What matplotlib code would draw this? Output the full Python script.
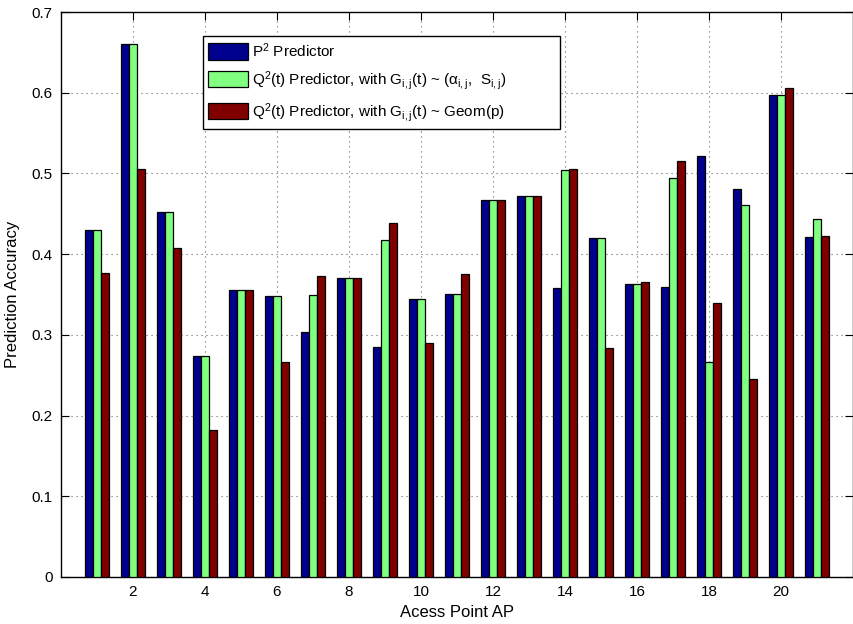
import numpy as np
import matplotlib
matplotlib.use("Agg")
import matplotlib.pyplot as plt

plt.rcParams["font.family"] = ["Liberation Sans", "DejaVu Sans"]
plt.rcParams["mathtext.fontset"] = "custom"
plt.rcParams["mathtext.rm"] = "Liberation Sans"
plt.rcParams["mathtext.it"] = "Liberation Sans"

# prediction accuracy per access point
aps = np.arange(1, 22)
p2_pred = [0.430, 0.660, 0.452, 0.274, 0.356, 0.348, 0.303, 0.370, 0.285, 0.345, 0.351,
           0.467, 0.472, 0.358, 0.420, 0.363, 0.359, 0.522, 0.481, 0.597, 0.421]
q2_alpha = [0.430, 0.660, 0.452, 0.274, 0.356, 0.348, 0.349, 0.370, 0.418, 0.345, 0.351,
            0.467, 0.472, 0.504, 0.420, 0.363, 0.494, 0.266, 0.461, 0.597, 0.443]
q2_geom = [0.377, 0.505, 0.408, 0.182, 0.356, 0.266, 0.373, 0.370, 0.438, 0.290, 0.376,
           0.467, 0.472, 0.506, 0.284, 0.366, 0.515, 0.340, 0.245, 0.606, 0.423]

labels = [
    r"P$^{2}$ Predictor",
    r"Q$^{2}$(t) Predictor, with G$_{i,j}$(t) ~ (α$_{i,j}$,  S$_{i,j}$)",
    r"Q$^{2}$(t) Predictor, with G$_{i,j}$(t) ~ Geom(p)",
]
colors = ["#00008F", "#80FF80", "#800000"]

fig = plt.figure(figsize=(8.54, 6.24), dpi=100)
ax = fig.add_axes([61 / 854, 47 / 624, 792 / 854, 565 / 624])

w = 0.2
step = 0.222
for k, (vals, c, lab) in enumerate(zip([p2_pred, q2_alpha, q2_geom], colors, labels)):
    ax.bar(aps + (k - 1) * step, vals, width=w, color=c, edgecolor="black",
           linewidth=0.9, label=lab, zorder=3)

ax.set_xlim(0, 22)
ax.set_ylim(0, 0.7)
ax.set_xticks(np.arange(2, 21, 2))
ax.set_yticks(np.arange(0, 0.71, 0.1))
ax.set_yticklabels(["0"] + ["%.1f" % v for v in np.arange(0.1, 0.71, 0.1)])
ax.tick_params(direction="in", length=6, width=0.8, labelsize=11,
               top=True, right=True, pad=6)
ax.grid(True, linestyle=(0, (1, 3.5)), color="#666666", linewidth=0.8, zorder=0)
for s in ax.spines.values():
    s.set_linewidth(1.0)

ax.set_xlabel("Acess Point AP", fontsize=12, labelpad=4)
ax.set_ylabel("Prediction Accuracy", fontsize=12, labelpad=8)

# legend box stretched to a fixed width inside the axes
leg = ax.legend(loc="upper left", bbox_to_anchor=(0.179, 0.5, 0.451, 0.458),
                mode="expand", borderaxespad=0,
                fontsize=11, fancybox=False, framealpha=1, edgecolor="black",
                handlelength=2.6, handleheight=1.25, labelspacing=0.6,
                handletextpad=0.3, borderpad=0.35)
leg.get_frame().set_linewidth(1.0)

fig.savefig("out.png", dpi=100)
